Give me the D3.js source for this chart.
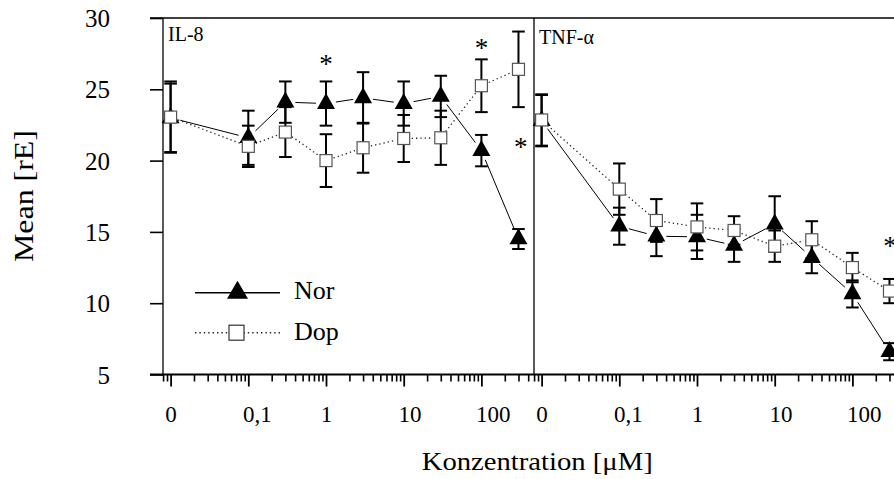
<!DOCTYPE html>
<html>
<head>
<meta charset="utf-8">
<script src="https://cdn.jsdelivr.net/npm/d3@7"></script>
<style>
  body { margin: 0; background: #fff; }
  text { font-family: "Liberation Serif", "Times New Roman", serif; fill: #000; }
</style>
</head>
<body>
<script>
// concentrations (uM), 0 is drawn at the 0.01 position
var conc = [0, 0.1, 0.3, 1, 3, 10, 30, 100, 300];

// IL-8 panel
var il8Nor    = [23.0, 21.6, 24.1, 24.0, 24.4, 24.0, 24.5, 20.7, 14.5];
var il8NorErr = [2.4, 1.9, 1.45, 1.55, 1.8, 1.55, 1.45, 1.1, 0.7];
var il8Dop    = [23.05, 21.0, 22.0, 20.0, 20.9, 21.55, 21.6, 25.25, 26.4];
var il8DopErr = [2.5, 1.45, 1.75, 1.85, 1.75, 1.65, 1.9, 1.85, 2.65];

// TNF-alpha panel
var tnfNor    = [22.8, 15.4, 14.7, 14.65, 14.05, 15.55, 13.2, 10.65, 6.6];
var tnfNorErr = [1.8, 1.3, 1.4, 1.55, 1.15, 1.95, 1.1, 0.95, 0.6];
var tnfDop    = [22.85, 18.0, 15.8, 15.35, 15.1, 14.0, 14.45, 12.5, 10.85];
var tnfDopErr = [1.8, 1.8, 1.5, 1.65, 1.0, 1.1, 1.3, 1.03, 0.85];

var panelNames = ["IL-8", "TNF-\u03b1"];
var yTicks = [5, 10, 15, 20, 25, 30];
var xTickValues = [0, 0.1, 1, 10, 100];
var xTickLabels = ["0", "0,1", "1", "10", "100"];

// significance stars: panel, concentration position, height
var starPanel = [0, 0, 0, 1];
var starConc  = [1, 100, 320, 305];
var starValue = [27.05, 28.2, 21.2, 14.3];

var W = 894, H = 479;
var yTop = 18, yBottom = 374.5, plotLeft = 163, panelW = 371, decade = 77.7;
var zeroPos = 0.01;
var serif = "'Liberation Serif', 'Times New Roman', serif";

var svg = d3.select("body").append("svg")
    .attr("width", W).attr("height", H);

var y = d3.scaleLinear().domain([5, 30]).range([yBottom, yTop]);

// y axis
svg.append("g")
    .attr("transform", "translate(" + plotLeft + ",0)")
    .call(d3.axisLeft(y).tickValues(yTicks).tickSize(13).tickSizeOuter(0).tickPadding(40))
    .call(function(g){ g.select(".domain").remove(); })
    .call(function(g){
        g.selectAll("line").attr("stroke", "#000").attr("stroke-width", 1.6);
        g.selectAll("text").attr("font-size", 25).attr("dy", "0.34em")
            .style("font-family", serif);
    });

// frame
svg.append("line").attr("x1", 150).attr("x2", W).attr("y1", yTop).attr("y2", yTop)
    .attr("stroke", "#000").attr("stroke-width", 1.3);
svg.append("line").attr("x1", plotLeft).attr("x2", plotLeft).attr("y1", yTop).attr("y2", yBottom)
    .attr("stroke", "#000").attr("stroke-width", 1.3);
svg.append("line").attr("x1", plotLeft + panelW).attr("x2", plotLeft + panelW).attr("y1", yTop).attr("y2", yBottom)
    .attr("stroke", "#000").attr("stroke-width", 1.3);
svg.append("line").attr("x1", 150).attr("x2", W).attr("y1", yBottom).attr("y2", yBottom)
    .attr("stroke", "#000").attr("stroke-width", 1.8);

var series = [
    [{v: il8Nor, e: il8NorErr}, {v: il8Dop, e: il8DopErr}],
    [{v: tnfNor, e: tnfNorErr}, {v: tnfDop, e: tnfDopErr}]
];

// shorten a segment so the line stops short of the markers
function gapLine(g, pts, gap, dash) {
    for (var k = 0; k < pts.length - 1; k++) {
        var a = pts[k], b = pts[k + 1];
        var dx = b[0] - a[0], dy = b[1] - a[1];
        var len = Math.sqrt(dx * dx + dy * dy);
        if (len <= 2 * gap) continue;
        var ux = dx / len, uy = dy / len;
        g.append("line")
            .attr("x1", a[0] + ux * gap).attr("y1", a[1] + uy * gap)
            .attr("x2", b[0] - ux * gap).attr("y2", b[1] - uy * gap)
            .attr("stroke", dash ? "#222" : "#000")
            .attr("stroke-width", dash ? 1.3 : 1)
            .attr("stroke-dasharray", dash ? "1.3,3" : null);
    }
}

function triPath(cx, cy, w, h) {
    // centroid at (cx, cy)
    return "M" + cx + "," + (cy - h * 2 / 3) +
           "L" + (cx + w / 2) + "," + (cy + h / 3) +
           "L" + (cx - w / 2) + "," + (cy + h / 3) + "Z";
}

panelNames.forEach(function(name, i) {
    var left = plotLeft + i * panelW;
    var x = d3.scaleLog().domain([0.01, 100]).range([left + 7.6, left + 7.6 + 4 * decade]);
    var px = function(c){ return x(c === 0 ? zeroPos : c); };
    var pg = svg.append("g");

    // minor ticks
    var minor = [];
    for (var e = -3; e <= 2; e++) {
        for (var k = 2; k <= 9; k++) {
            var v = k * Math.pow(10, e);
            var xx = x(v);
            if (xx >= left - 0.5 && xx <= left + panelW && xx <= W) minor.push(v);
        }
    }
    pg.append("g")
        .attr("transform", "translate(0," + yBottom + ")")
        .call(d3.axisBottom(x).tickValues(minor).tickSize(7).tickSizeOuter(0).tickFormat(""))
        .call(function(g){ g.select(".domain").remove(); })
        .call(function(g){ g.selectAll("line").attr("stroke", "#000").attr("stroke-width", 1.6); });

    // major ticks with labels
    pg.append("g")
        .attr("transform", "translate(0," + yBottom + ")")
        .call(d3.axisBottom(x).tickValues(xTickValues.map(function(c){ return c === 0 ? zeroPos : c; }))
            .tickSize(12).tickSizeOuter(0)
            .tickFormat(function(d, j){ return xTickLabels[j]; }))
        .call(function(g){ g.select(".domain").remove(); })
        .call(function(g){
            g.selectAll("line").attr("stroke", "#000").attr("stroke-width", 1.8);
            g.selectAll("text").attr("font-size", 23).attr("text-anchor", "start")
                .attr("x", -5.8).attr("y", 47).attr("dy", null)
                .style("font-family", serif);
        });

    // panel label
    pg.append("text").attr("x", left + 5).attr("y", i === 0 ? 41 : 44)
        .attr("font-size", 20).text(name);

    var nor = series[i][0], dop = series[i][1];
    var norPts = conc.map(function(c, j){ return [px(c), y(nor.v[j])]; });
    var dopPts = conc.map(function(c, j){ return [px(c), y(dop.v[j])]; });

    gapLine(pg, norPts, 10, false);
    gapLine(pg, dopPts, 8, true);

    // error bars
    [nor, dop].forEach(function(s) {
        conc.forEach(function(c, j) {
            var cx = px(c), y1 = y(s.v[j] + s.e[j]), y2 = y(s.v[j] - s.e[j]);
            pg.append("line").attr("x1", cx).attr("x2", cx).attr("y1", y1).attr("y2", y2)
                .attr("stroke", "#000").attr("stroke-width", 2);
            [y1, y2].forEach(function(yy) {
                pg.append("line").attr("x1", cx - 6.3).attr("x2", cx + 6.3).attr("y1", yy).attr("y2", yy)
                    .attr("stroke", "#000").attr("stroke-width", 2);
            });
        });
    });

    // markers
    pg.selectAll(".tri").data(norPts).enter().append("path")
        .attr("d", function(d){ return triPath(d[0], d[1], 18, 16); })
        .attr("fill", "#000");
    pg.selectAll(".sq").data(dopPts).enter().append("rect")
        .attr("x", function(d){ return d[0] - 6; })
        .attr("y", function(d){ return d[1] - 6; })
        .attr("width", 12).attr("height", 12)
        .attr("fill", "#fff").attr("stroke", "#555").attr("stroke-width", 1.2);

    // stars
    starPanel.forEach(function(p, j) {
        if (p !== i) return;
        pg.append("text").attr("x", x(starConc[j])).attr("y", y(starValue[j]) + 13)
            .attr("text-anchor", "middle").attr("font-size", 27).text("*");
    });
});

// legend
var lg = svg.append("g");
lg.append("line").attr("x1", 195).attr("x2", 280).attr("y1", 292.7).attr("y2", 292.7)
    .attr("stroke", "#000").attr("stroke-width", 1.6);
lg.append("path").attr("d", triPath(237.5, 292.7, 21, 18)).attr("fill", "#000");
lg.append("text").attr("x", 294).attr("y", 299).attr("font-size", 26).text("Nor");
lg.append("line").attr("x1", 195).attr("x2", 280).attr("y1", 332.7).attr("y2", 332.7)
    .attr("stroke", "#222").attr("stroke-width", 1.4).attr("stroke-dasharray", "1.4,3");
lg.append("rect").attr("x", 229).attr("y", 325.2).attr("width", 15).attr("height", 15)
    .attr("fill", "#fff").attr("stroke", "#333").attr("stroke-width", 1.2);
lg.append("text").attr("x", 294).attr("y", 340).attr("font-size", 26).text("Dop");

// axis titles
svg.append("text").attr("x", 421.7).attr("y", 470).attr("font-size", 25)
    .attr("textLength", 231).attr("lengthAdjust", "spacingAndGlyphs")
    .text("Konzentration [\u03bcM]");
svg.append("text").attr("transform", "translate(33,262) rotate(-90)")
    .attr("font-size", 27).attr("textLength", 132).attr("lengthAdjust", "spacingAndGlyphs")
    .text("Mean [rE]");
</script>
</body>
</html>
